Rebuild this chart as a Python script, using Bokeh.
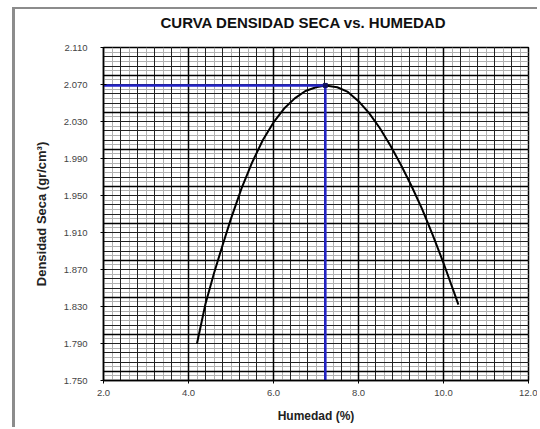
from bokeh.plotting import figure
from bokeh.models import Range1d, SingleIntervalTicker, Grid, NumeralTickFormatter, Title
from bokeh.embed import file_html
from bokeh.resources import INLINE

# Compaction curve: moisture content (%) vs. dry density (gr/cm3)
humedad = [4.20, 4.40, 4.60, 4.80, 5.00, 5.25, 5.50, 5.75, 6.00, 6.25,
           6.50, 6.75, 7.00, 7.22, 7.50, 7.75, 8.00, 8.25, 8.50, 8.75,
           9.00, 9.25, 9.50, 9.75, 10.00, 10.25, 10.35]
densidad = [1.790, 1.833, 1.866, 1.896, 1.925, 1.958, 1.986, 2.010, 2.029, 2.044,
            2.055, 2.063, 2.067, 2.069, 2.067, 2.062, 2.052, 2.039, 2.023, 2.004,
            1.983, 1.960, 1.935, 1.907, 1.877, 1.845, 1.832]

# Optimum moisture and maximum dry density
humedad_opt = 7.22
densidad_max = 2.069

x_ticks = [2.0, 4.0, 6.0, 8.0, 10.0, 12.0]
y_ticks = [1.750, 1.790, 1.830, 1.870, 1.910, 1.950, 1.990, 2.030, 2.070, 2.110]

FONT = "Liberation Sans"

p = figure(width=525, height=420, output_backend="svg", toolbar_location=None,
           title=None,
           x_range=Range1d(x_ticks[0], x_ticks[-1]),
           y_range=Range1d(y_ticks[0], y_ticks[-1]),
           min_border_left=88, min_border_right=12,
           min_border_top=38, min_border_bottom=49,
           background_fill_color="white", border_fill_color="white")

# grey chart frame around the figure
p.styles = {"margin-left": "12px", "margin-top": "7px",
            "border-left": "3px solid #8c8c8c", "border-top": "2px solid #8c8c8c"}

# empty spacer panel keeps the title clear of the plot area
p.add_layout(Title(text=" ", text_font_size="13px", standoff=0), "above")
p.add_layout(Title(text="CURVA DENSIDAD SECA vs. HUMEDAD", align="left", offset=57,
                   text_font=FONT, text_font_size="15px", text_font_style="bold",
                   text_color="#111111", standoff=0), "above")

p.outline_line_color = "black"
p.outline_line_width = 1.5

# default grids off; layered grids drawn below
p.xgrid.visible = False
p.ygrid.visible = False

def add_grid(dim, interval, color, width):
    g = Grid(dimension=dim, ticker=SingleIntervalTicker(interval=interval, num_minor_ticks=0),
             grid_line_color=color, grid_line_width=width)
    p.add_layout(g)

add_grid(0, 0.2, "#b0b0b0", 1)
add_grid(1, 0.005, "#b0b0b0", 1)
add_grid(0, 0.4, "#222222", 1)
add_grid(1, 0.01, "#222222", 1)
add_grid(0, 2.0, "#000000", 1.5)
add_grid(1, 0.04, "#000000", 1.5)

# axes
p.xaxis.ticker = x_ticks
p.yaxis.ticker = y_ticks
p.xaxis.formatter = NumeralTickFormatter(format="0.0")
p.yaxis.formatter = NumeralTickFormatter(format="0.000")
for ax in (p.xaxis[0], p.yaxis[0]):
    ax.axis_line_color = "black"
    ax.axis_line_width = 1.5
    ax.major_tick_in = 3
    ax.major_tick_out = 3
    ax.major_tick_line_color = "black"
    ax.minor_tick_line_color = None
    ax.major_label_text_font = FONT
    ax.major_label_text_font_size = "9.5px"
    ax.major_label_text_color = "#444444"
    ax.axis_label_text_font = FONT
    ax.axis_label_text_font_style = "bold"
    ax.axis_label_text_color = "#222222"

p.xaxis.axis_label_text_font_size = "12px"
p.yaxis.axis_label_text_font_size = "13px"
p.xaxis.axis_label = "Humedad (%)"
p.yaxis.axis_label = "Densidad Seca (gr/cm³)"
p.xaxis.major_label_standoff = 6
p.xaxis.axis_label_standoff = 10
p.yaxis.major_label_standoff = 13
p.yaxis.axis_label_standoff = 12

# compaction curve
p.line(humedad, densidad, line_color="black", line_width=2)

# guide lines at the optimum
p.line([x_ticks[0], humedad_opt], [densidad_max, densidad_max],
       line_color="#2323c8", line_width=2.5)
p.line([humedad_opt, humedad_opt], [y_ticks[0], densidad_max],
       line_color="#2323c8", line_width=2.5)
p.scatter([humedad_opt], [densidad_max], marker="square", size=4,
          fill_color="#101060", line_color="#101060")

open("out.html", "w").write(file_html(p, INLINE))
